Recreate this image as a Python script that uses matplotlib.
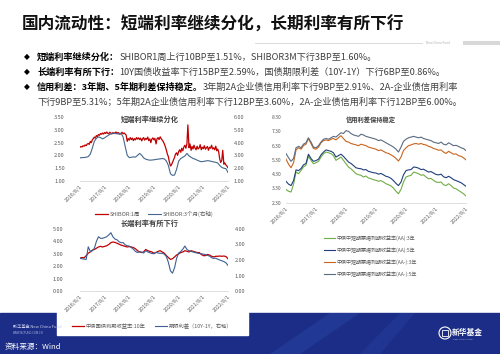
import pandas as pd
import matplotlib
matplotlib.use('Agg')
import matplotlib.pyplot as plt
from matplotlib.patches import Rectangle, Ellipse, Polygon
from matplotlib.lines import Line2D

plt.rcParams['font.family'] = ['Noto Sans CJK SC', 'DejaVu Sans']

W, H = 500, 354

# ---- data ----
months = pd.date_range('2016-08-01', '2022-08-01', freq='MS')     # 73 monthly points
halfmonths = pd.date_range('2016-08-01', '2022-08-01', freq='SMS')  # 145 semi-monthly points
tick_dates = pd.to_datetime(['2016-08-01', '2017-08-01', '2018-08-01', '2019-08-01',
                             '2020-08-01', '2021-08-01', '2022-08-01'])
tick_labels = ['2016/8/1', '2017/8/1', '2018/8/1', '2019/8/1', '2020/8/1', '2021/8/1', '2022/8/1']

shibor_1w = [
    2.32, 2.35, 2.33, 2.38, 2.36, 2.41, 2.38, 2.44, 2.47, 2.43,
    2.55, 2.50, 2.62, 2.66, 2.72, 2.68, 2.78, 2.74, 2.82, 2.79, 2.86, 2.83, 2.88, 2.84, 2.90, 2.86, 2.92, 2.87, 2.85, 2.91, 2.88, 2.84, 2.90, 2.86,
    2.89, 2.92, 2.86, 2.90, 2.88, 2.83, 2.87, 2.91, 2.85, 2.88, 2.84, 2.80, 2.55, 2.66, 2.60, 2.70, 2.62, 2.68, 2.58, 2.66, 2.61, 2.70, 2.64, 2.69,
    2.62, 2.68, 2.57, 2.66, 2.70, 2.60, 2.67, 2.63, 2.72, 2.58, 2.65, 2.50, 2.64, 2.69, 2.61, 2.67, 2.45, 2.65, 2.70, 2.62, 2.73, 2.66, 2.60, 2.55,
    2.45, 2.35, 2.20, 2.05, 1.95, 1.75, 1.58, 1.62, 1.72, 1.80, 1.92, 2.05, 2.10, 2.00, 2.15, 2.22, 2.12, 2.28, 2.18, 2.32, 2.40, 2.28, 2.45, 3.20,
    2.30, 2.45, 2.20, 2.35, 2.25, 2.40, 2.28, 2.22, 2.36, 2.25, 2.30, 2.42, 2.22, 2.32, 2.26, 2.38, 2.24, 2.30, 2.35, 2.20, 2.32, 2.28, 2.40, 2.25,
    2.30, 2.22, 2.36, 2.18, 2.25, 2.15, 1.85, 1.72, 1.80, 2.20, 1.65, 1.70, 1.62, 1.58, 1.51,
]
shibor_3m = [
    2.80, 2.82, 2.83, 2.85, 2.90,
    3.10, 3.60, 4.10, 4.35, 4.45, 4.40, 4.30, 4.38, 4.50, 4.60, 4.70, 4.75,
    4.72, 4.70, 4.68, 4.74, 4.45, 3.70, 3.00, 2.82, 2.85, 2.88, 2.86, 3.00,
    3.15, 3.00, 2.80, 2.70, 2.65, 2.62, 2.63, 2.65, 2.68, 2.70, 2.72, 2.75,
    2.72, 2.55, 2.20, 1.55, 1.42, 1.45, 1.90, 2.55, 2.75, 2.85, 2.95, 3.15,
    2.95, 2.85, 2.75, 2.70, 2.62, 2.55, 2.50, 2.52, 2.55, 2.58, 2.56, 2.52,
    2.48, 2.45, 2.40, 2.20, 2.05, 1.98, 1.95, 1.65,
]
cgb_10y = [
    2.65, 2.70, 2.68, 2.85, 3.05,
    3.15, 3.30, 3.35, 3.45, 3.55, 3.60, 3.55, 3.60, 3.65, 3.75, 3.90, 3.95,
    3.92, 3.85, 3.78, 3.70, 3.65, 3.60, 3.55, 3.58, 3.55, 3.50, 3.40, 3.25,
    3.15, 3.10, 3.15, 3.35, 3.25, 3.20, 3.15, 3.05, 3.10, 3.20, 3.25, 3.15,
    3.05, 2.85, 2.70, 2.55, 2.60, 2.75, 2.90, 3.00, 3.10, 3.15, 3.25, 3.20,
    3.15, 3.25, 3.20, 3.15, 3.10, 3.10, 2.95, 2.85, 2.85, 2.95, 2.90, 2.80,
    2.75, 2.80, 2.80, 2.82, 2.80, 2.82, 2.78, 2.60,
]
term_spread = [
    2.11, 2.08, 2.06, 2.04, 2.85,
    2.55, 2.60, 2.75, 3.20, 3.50, 3.40, 3.40, 3.45, 3.50, 3.62, 3.76, 3.50,
    3.35, 3.30, 3.18, 3.12, 3.12, 2.98, 2.92, 2.90, 2.80, 2.69, 2.55, 2.48,
    2.54, 2.50, 2.45, 2.60, 2.52, 2.47, 2.42, 2.40, 2.50, 2.45, 2.43, 2.43,
    2.38, 2.22, 1.85, 1.30, 1.15, 1.50, 2.10, 2.45, 2.55, 2.70, 2.90, 2.68,
    2.60, 2.55, 2.52, 2.48, 2.45, 2.42, 2.40, 2.38, 2.35, 2.30, 2.25, 2.15,
    2.10, 2.12, 2.05, 2.00, 1.95, 1.90, 1.82, 1.65,
]
aa_3y = [
    3.23, 3.10, 3.05, 3.60, 4.45,
    4.33, 4.57, 4.80, 4.92, 5.55, 5.27, 5.03, 5.10, 5.20, 5.50, 5.73, 5.85,
    5.80, 5.73, 5.60, 5.27, 5.38, 5.50, 5.27, 5.03, 4.80, 4.68, 4.50, 4.33,
    4.26, 4.22, 4.10, 4.17, 4.03, 3.98, 3.91, 3.87, 3.80, 3.85, 3.75, 3.63,
    3.56, 3.47, 3.33, 3.10, 2.93, 3.23, 3.75, 4.10, 4.17, 4.22, 4.45, 4.40,
    4.33, 4.22, 4.26, 4.10, 3.98, 4.00, 3.87, 3.75, 3.72, 3.75, 3.56, 3.50,
    3.63, 3.50, 3.33, 3.28, 3.16, 3.05, 2.93, 2.77,
]
aa_5y = [
    3.80, 3.60, 3.50, 3.85, 4.60,
    4.55, 4.70, 4.95, 5.05, 5.70, 5.40, 5.20, 5.25, 5.35, 5.65, 5.85, 6.00,
    5.95, 5.90, 5.80, 5.50, 5.60, 5.70, 5.55, 5.35, 5.15, 5.05, 4.90, 4.75,
    4.70, 4.68, 4.60, 4.62, 4.50, 4.45, 4.40, 4.38, 4.30, 4.35, 4.25, 4.15,
    4.10, 4.00, 3.85, 3.65, 3.50, 3.75, 4.25, 4.55, 4.60, 4.62, 4.80, 4.78,
    4.72, 4.62, 4.65, 4.55, 4.45, 4.48, 4.38, 4.28, 4.25, 4.30, 4.12, 4.05,
    4.15, 4.05, 3.92, 3.85, 3.78, 3.70, 3.58, 3.45,
]
aam_3y = [
    5.35, 5.00, 4.75, 5.10, 6.00,
    6.15, 6.05, 6.30, 6.40, 6.80, 6.45, 6.10, 6.05, 6.20, 6.50, 6.65, 6.70,
    6.65, 6.75, 6.80, 6.70, 6.85, 7.00, 6.80, 6.60, 6.55, 6.45, 6.40, 6.35,
    6.30, 6.40, 6.35, 6.30, 6.20, 6.15, 6.10, 6.05, 5.95, 6.00, 5.90, 5.80,
    5.75, 5.65, 5.55, 5.40, 5.22, 5.50, 5.95, 6.15, 6.30, 6.35, 6.42, 6.45,
    6.40, 6.45, 6.38, 6.35, 6.25, 6.20, 6.10, 6.05, 5.98, 6.00, 5.85, 5.75,
    5.90, 5.80, 5.70, 5.72, 5.60, 5.55, 5.45, 5.30,
]
aam_5y = [
    5.75, 5.45, 5.20, 5.40, 6.15,
    6.25, 6.15, 6.40, 6.50, 6.85, 6.55, 6.20, 6.15, 6.30, 6.55, 6.75, 6.80,
    6.75, 6.85, 6.95, 6.90, 7.05, 7.20, 7.15, 7.35, 7.30, 7.15, 7.05, 7.00,
    6.95, 7.10, 7.05, 6.95, 6.90, 6.85, 6.80, 6.75, 6.65, 6.70, 6.60, 6.50,
    6.40, 6.30, 6.20, 6.05, 5.85, 6.20, 6.60, 6.75, 6.85, 6.90, 6.95, 6.90,
    6.85, 6.90, 6.80, 6.75, 6.70, 6.65, 6.55, 6.50, 6.45, 6.55, 6.40, 6.35,
    6.50, 6.40, 6.30, 6.32, 6.25, 6.15, 6.10, 5.95,
]
credit_labels = ['中债中短期票据到期收益率(AA):3年', '中债中短期票据到期收益率(AA):5年',
                 '中债中短期票据到期收益率(AA-):3年', '中债中短期票据到期收益率(AA-):5年']

bullets = [
    ('短端利率继续分化：', 'SHIBOR1周上行10BP至1.51%，SHIBOR3M下行3BP至1.60%。'),
    ('长端利率有所下行：', '10Y国债收益率下行15BP至2.59%，国债期限利差（10Y-1Y）下行6BP至0.86%。'),
    ('信用利差：3年期、5年期利差保持稳定。', '3年期2A企业债信用利率下行9BP至2.91%、2A-企业债信用利率'),
    ('', '下行9BP至5.31%；5年期2A企业债信用利率下行12BP至3.60%，2A-企业债信用利率下行12BP至6.00%。'),
]


def fx(x):
    return x / W


def fy(y):
    return 1 - y / H


def box(x0, y0, x1, y1):
    # pixel box (top-left origin) -> add_axes rect
    return [fx(x0), fy(y1), (x1 - x0) / W, (y1 - y0) / H]


def style(ax, xlabels=True):
    for s in ['top', 'left', 'right']:
        ax.spines[s].set_visible(False)
    ax.spines['bottom'].set_color('#d9d9d9')
    ax.spines['bottom'].set_linewidth(0.6)
    ax.set_facecolor('none')
    ax.tick_params(length=0, labelsize=4, colors='#595959')
    ax.set_xlim(months[0], months[-1])
    ax.set_xticks(tick_dates)
    if xlabels:
        ax.set_xticklabels(tick_labels, rotation=45, ha='right', rotation_mode='anchor', fontsize=3.8)
    ax.tick_params(axis='x', pad=2)


fig = plt.figure(figsize=(W / 100, H / 100), dpi=100)

# bottom band and the white card that runs over it
fig.add_artist(Rectangle((0, 0), 1, fy(313), transform=fig.transFigure, color='#1b2d86', zorder=-3))
fig.add_artist(Polygon([(fx(270), 0), (fx(330), fy(313)), (fx(360), fy(313)), (fx(300), 0)],
                       transform=fig.transFigure, color='#2a46a6', alpha=0.45, lw=0, zorder=-3))
fig.add_artist(Polygon([(fx(360), 0), (fx(400), fy(313)), (fx(415), fy(313)), (fx(380), 0)],
                       transform=fig.transFigure, color='#2a46a6', alpha=0.35, lw=0, zorder=-3))
fig.add_artist(Rectangle((fx(57), fy(335)), (248 - 57) / W, (335 - 300) / H,
                         transform=fig.transFigure, color='white', zorder=-2))

# header
fig.text(fx(22), fy(25), '国内流动性：短端利率继续分化，长期利率有所下行', fontsize=12,
         fontweight='bold', color='#111111', va='center', ha='left')
fig.add_artist(Line2D([fx(255), fx(422)], [fy(43), fy(43)], transform=fig.transFigure,
                      color='#d4d4d4', lw=0.6))
fig.text(fx(426), fy(43), 'New China Fund', fontsize=2.3, color='#b0b0b0', va='center')
fig.add_artist(Rectangle((fx(463), fy(45)), 37 / W, 4 / H, transform=fig.transFigure,
                         color='#d8d8d8', lw=0))

r = fig.canvas.get_renderer()
for (bold, rest), y in zip(bullets, [57, 72, 87, 102]):
    x = fx(37)
    if bold:
        fig.text(fx(24), fy(y), '◆', fontsize=5.5, color='black', va='center', family=['DejaVu Sans'])
        t = fig.text(x, fy(y), bold, fontsize=6.6, fontweight='bold', color='black', va='center')
        x = fig.transFigure.inverted().transform((t.get_window_extent(r).x1, 0))[0]
    fig.text(x, fy(y), rest, fontsize=6.6, color='#404040', va='center')

# ---- top left: SHIBOR ----
ax1 = fig.add_axes(box(80, 117.3, 228, 180.7))
style(ax1)
ax1.plot(halfmonths, shibor_1w, color='#c00000', lw=0.9, label='SHIBOR:1周')
ax1.set_ylim(1, 3.5)
ax1.set_yticks([1.0, 1.5, 2.0, 2.5, 3.0, 3.5])
ax1.set_yticklabels(['%.2f' % v for v in ax1.get_yticks()])
ax1.tick_params(axis='y', pad=11)
ax1b = ax1.twinx()
for s in ax1b.spines.values():
    s.set_visible(False)
ax1b.plot(months, shibor_3m, color='#44678f', lw=0.8, label='SHIBOR:3个月(右轴)')
ax1b.set_ylim(1, 6)
ax1b.set_yticks([1, 2, 3, 4, 5, 6])
ax1b.set_yticklabels(['%.2f' % v for v in ax1b.get_yticks()])
ax1b.tick_params(length=0, labelsize=4, colors='#595959', pad=4)
fig.text(fx(150), fy(119.5), '短端利率继续分化', fontsize=5.2, fontweight='bold',
         color='#404040', ha='center', va='center')
h1 = ax1.get_lines() + ax1b.get_lines()
fig.legend(h1, [l.get_label() for l in h1], loc='center', bbox_to_anchor=(fx(154), fy(214)),
           ncol=2, frameon=False, fontsize=4, handlelength=2.3, handletextpad=0.3,
           columnspacing=1.5, labelcolor='#595959')

# ---- bottom left: 10Y and term spread ----
ax2 = fig.add_axes(box(80, 229, 228, 291))
style(ax2)
ax2.plot(months, cgb_10y, color='#c00000', lw=0.9, label='中债国债到期收益率:10年')
ax2.set_ylim(0, 5)
ax2.set_yticks([0, 1, 2, 3, 4, 5])
ax2.set_yticklabels(['%.2f' % v for v in ax2.get_yticks()])
ax2.tick_params(axis='y', pad=12)
ax2b = ax2.twinx()
for s in ax2b.spines.values():
    s.set_visible(False)
ax2b.plot(months, term_spread, color='#3d5f94', lw=0.8, label='期限利差（10Y-1Y，右轴）')
ax2b.set_ylim(0, 4)
ax2b.set_yticks([0, 1, 2, 3, 4])
ax2b.set_yticklabels(['%.2f' % v for v in ax2b.get_yticks()])
ax2b.tick_params(length=0, labelsize=4, colors='#595959', pad=5)
fig.text(fx(150), fy(223), '长端利率有所下行', fontsize=5.2, fontweight='bold',
         color='#404040', ha='center', va='center')
h2 = ax2.get_lines() + ax2b.get_lines()
fig.legend(h2, [l.get_label() for l in h2], loc='center', bbox_to_anchor=(fx(152), fy(326)),
           ncol=2, frameon=False, fontsize=3.8, handlelength=2.3, handletextpad=0.3,
           columnspacing=1.8, labelcolor='#595959')

# ---- right: credit yields ----
ax3 = fig.add_axes(box(286, 117.1, 466, 202.7))
style(ax3)
colors = ['#70ad47', '#203f7a', '#c8641e', '#5b6b80']
for vals, c, lab in zip([aa_3y, aa_5y, aam_3y, aam_5y], colors, credit_labels):
    ax3.plot(months, vals, color=c, lw=0.8, label=lab)
ax3.set_ylim(2.3, 8.3)
ax3.set_yticks([2.3, 3.3, 4.3, 5.3, 6.3, 7.3, 8.3])
ax3.set_yticklabels(['%.2f' % v for v in ax3.get_yticks()])
ax3.tick_params(axis='y', pad=3, labelsize=3.6)
fig.text(fx(371), fy(119), '信用利差保持稳定', fontsize=4.5, fontweight='bold',
         color='#404040', ha='center', va='center')
fig.legend(ax3.get_lines(), credit_labels, loc='upper left', bbox_to_anchor=(fx(319), fy(231)),
           ncol=1, frameon=False, fontsize=3.6, handlelength=2.3, handletextpad=0.3,
           labelspacing=1.2, labelcolor='#595959')

# ---- band texts and logo ----
fig.text(fx(13), fy(327), '新华基金 New China Fund', fontsize=3, color='#c9d1f0', va='center')
fig.text(fx(13), fy(333), 'WWW.NCFUND.COM.CN', fontsize=2, color='#aab4e0', va='center')
fig.text(fx(5), fy(347), '资料来源：Wind', fontsize=5.5, color='white', va='center')
fig.add_artist(Ellipse((fx(445), fy(333)), 12 / W, 12 / H, transform=fig.transFigure,
                       fill=False, ec='white', lw=0.8))
fig.add_artist(Rectangle((fx(442), fy(336)), 6 / W, 6 / H, transform=fig.transFigure,
                         fill=False, ec='white', lw=0.6))
fig.text(fx(452), fy(332), '新华基金', fontsize=5.6, fontweight='bold', color='white', va='center')
fig.text(fx(453), fy(339), 'NEW  CHINA  FUND', fontsize=1.6, color='#c9d1f0', va='center')

fig.savefig('out.png', dpi=100)
